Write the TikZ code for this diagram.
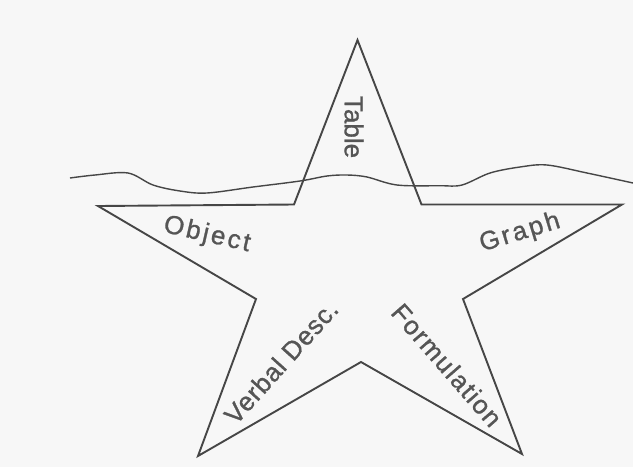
\documentclass[tikz,border=0pt]{standalone}
\usepackage{fontspec}
\setmainfont{Liberation Sans}
\newfontfamily\lblfont[FakeBold=1.0]{Liberation Sans}
\definecolor{linegray}{RGB}{70,70,70}
\definecolor{textgray}{RGB}{85,85,85}
\definecolor{bggray}{RGB}{247,247,247}
\begin{document}
\begin{tikzpicture}[x=1pt,y=-1pt,
  starline/.style={draw=linegray,line width=1.9pt,line join=miter},
  waveline/.style={draw=linegray,line width=1.4pt},
  lbl/.style={text=textgray,font=\lblfont\fontsize{26}{28}\selectfont,inner sep=0pt,anchor=center}]
\fill[bggray] (0,0) rectangle (633,467);
\useasboundingbox (0,0) rectangle (633,467);
% star
\draw[starline] (357.5,40) -- (421.5,204.5) -- (622,204.5) -- (463,299) -- (522,454)
  -- (361,362) -- (198,456) -- (256,299) -- (98,206) -- (294,204.5) -- cycle;
% water line
\draw[waveline] plot[smooth,tension=0.55] coordinates {(70,178) (95,175) (128,173) (153,185)
  (180,191) (207,193) (253,187) (300,181) (327,176) (347,175) (367,177) (397,185)
  (440,185.7) (462,185) (490,173) (520,167) (547,165) (587,173) (633,183)};
% labels
\node[lbl,rotate=-90] (table) at (354,127) {Table};
\node[lbl,rotate=-13] (object) at (207,235) {\addfontfeature{LetterSpace=10}Object};
\node[lbl,rotate=17] (graph) at (520,233) {\addfontfeature{LetterSpace=10}Graph};
\node[lbl,rotate=48] (verbal) at (281,362) {\addfontfeature{LetterSpace=3}Verbal Desc.};
\node[lbl,rotate=-49] (formul) at (447,365) {\addfontfeature{LetterSpace=6}Formulation};
\end{tikzpicture}
\end{document}
